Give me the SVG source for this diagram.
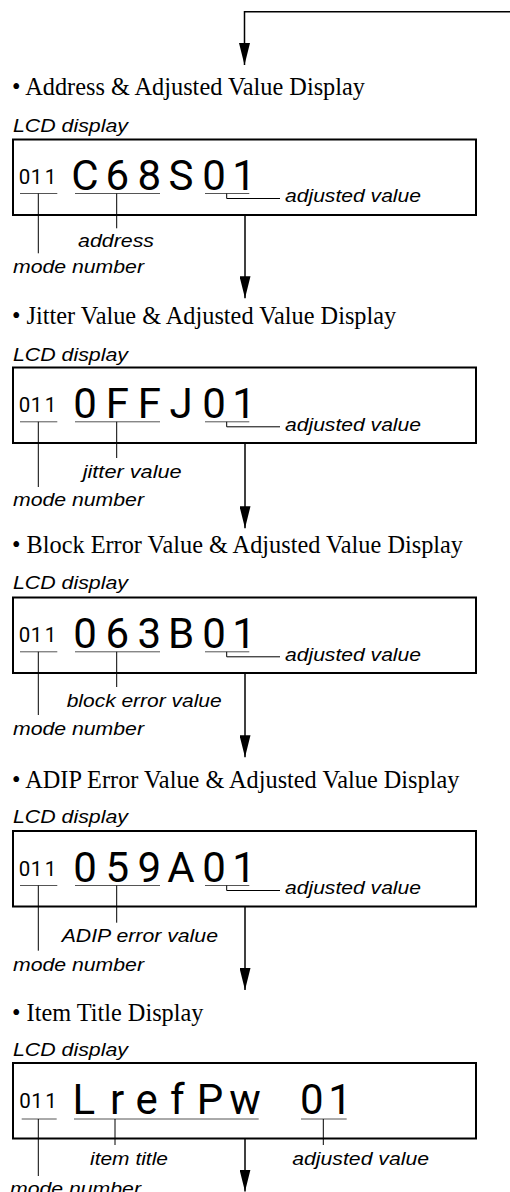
<svg xmlns="http://www.w3.org/2000/svg" width="510" height="1192" viewBox="0 0 510 1192">
<style>
.title{font-family:"Liberation Serif","Times New Roman",serif;font-size:24.3px;fill:#000}
.lbl{font-family:"Liberation Sans",Arial,sans-serif;font-style:italic;font-size:18.5px;fill:#000}
.box{fill:#fff;stroke:#000;stroke-width:2}
.lcd{font-family:Roboto,"DejaVu Sans",sans-serif;font-weight:400;font-size:42px;fill:#000;text-anchor:middle}
.lcds{font-family:Roboto,"DejaVu Sans",sans-serif;font-weight:400;font-size:20.5px;fill:#000;text-anchor:middle}
.ul{stroke:#555;stroke-width:1;fill:none}
.ld{stroke:#000;stroke-width:1;fill:none}
.arr{stroke:#000;stroke-width:1.5;fill:none;marker-end:url(#ah)}
</style>
<defs>
<marker id="ah" viewBox="0 0 22 11" refX="22" refY="5.5" markerWidth="22" markerHeight="11" markerUnits="userSpaceOnUse" orient="auto">
<path d="M0,0 L22,5.5 L0,11 Z" fill="#000"/>
</marker>
</defs>
<rect width="510" height="1192" fill="#fff"/>

<g id="connectors">
<polyline class="arr" points="510,11.7 244.5,11.7 244.5,65"/>
<line class="arr" x1="245" y1="215" x2="245" y2="298.3"/>
<line class="arr" x1="245" y1="443.3" x2="245" y2="528.3"/>
<line class="arr" x1="245" y1="673" x2="245" y2="757.3"/>
<line class="arr" x1="245" y1="906" x2="245" y2="990"/>
<line class="arr" x1="245" y1="1138.5" x2="245" y2="1191.5"/>
</g>

<g id="block1">
<text class="title" x="12" y="95">• Address &amp; Adjusted Value Display</text>
<text class="lbl" x="13" y="132" textLength="115" lengthAdjust="spacingAndGlyphs">LCD display</text>
<rect class="box" x="13" y="139.5" width="463" height="75.5"/>
<text class="lcds" x="24.5 36.5 50.5" y="184.2">011</text>
<text class="lcd" x="85 117.3 149.3 181 214 244" y="190.2">C68S01</text>
<path class="ul" d="M20,193.5 H57.3 M75,193.5 H160 M205,193.5 H249.3"/>
<path class="ld" d="M226.7,193.5 V198.5 H280 M38.3,193.5 V253.3 M116.7,193.5 V228.3"/>
<text class="lbl" x="285" y="202" textLength="136" lengthAdjust="spacingAndGlyphs">adjusted value</text>
<text class="lbl" x="78" y="247.3" textLength="76" lengthAdjust="spacingAndGlyphs">address</text>
<text class="lbl" x="13" y="273.3" textLength="131" lengthAdjust="spacingAndGlyphs">mode number</text>
</g>

<g id="block2">
<text class="title" x="12" y="324">• Jitter Value &amp; Adjusted Value Display</text>
<text class="lbl" x="13" y="360.5" textLength="115" lengthAdjust="spacingAndGlyphs">LCD display</text>
<rect class="box" x="13" y="367.5" width="463" height="75.5"/>
<text class="lcds" x="24.5 36.5 50.5" y="412.2">011</text>
<text class="lcd" x="85 117.3 149.3 181 214 244" y="418.2">0FFJ01</text>
<path class="ul" d="M20,421.8 H57.3 M75,421.8 H160 M205,421.8 H249.3"/>
<path class="ld" d="M226.7,421.8 V426.8 H280 M38.3,421.8 V487 M116.7,421.8 V458"/>
<text class="lbl" x="285" y="430.5" textLength="136" lengthAdjust="spacingAndGlyphs">adjusted value</text>
<text class="lbl" x="82.7" y="478.3" textLength="99" lengthAdjust="spacingAndGlyphs">jitter value</text>
<text class="lbl" x="13" y="506" textLength="131" lengthAdjust="spacingAndGlyphs">mode number</text>
</g>

<g id="block3">
<text class="title" x="12" y="553">• Block Error Value &amp; Adjusted Value Display</text>
<text class="lbl" x="13" y="589" textLength="115" lengthAdjust="spacingAndGlyphs">LCD display</text>
<rect class="box" x="13" y="597.5" width="463" height="75.5"/>
<text class="lcds" x="24.5 36.5 50.5" y="642.2">011</text>
<text class="lcd" x="85 117.3 149.3 181 214 244" y="648.2">063B01</text>
<path class="ul" d="M20,651.8 H57.3 M75,651.8 H160 M205,651.8 H249.3"/>
<path class="ld" d="M226.7,651.8 V656.8 H280 M38.3,651.8 V715 M116.7,651.8 V687"/>
<text class="lbl" x="285" y="660.5" textLength="136" lengthAdjust="spacingAndGlyphs">adjusted value</text>
<text class="lbl" x="66.7" y="706.7" textLength="155" lengthAdjust="spacingAndGlyphs">block error value</text>
<text class="lbl" x="13" y="735" textLength="131" lengthAdjust="spacingAndGlyphs">mode number</text>
</g>

<g id="block4">
<text class="title" x="12" y="788">• ADIP Error Value &amp; Adjusted Value Display</text>
<text class="lbl" x="13" y="823" textLength="115" lengthAdjust="spacingAndGlyphs">LCD display</text>
<rect class="box" x="13" y="831" width="463" height="75.5"/>
<text class="lcds" x="24.5 36.5 50.5" y="875.7">011</text>
<text class="lcd" x="85 117.3 149.3 181 214 244" y="881.7">059A01</text>
<path class="ul" d="M20,885.5 H57.3 M75,885.5 H160 M205,885.5 H249.3"/>
<path class="ld" d="M226.7,885.5 V890.5 H280 M38.3,885.5 V950.7 M116.7,885.5 V922.7"/>
<text class="lbl" x="285" y="894" textLength="136" lengthAdjust="spacingAndGlyphs">adjusted value</text>
<text class="lbl" x="61.7" y="941.7" textLength="156.3" lengthAdjust="spacingAndGlyphs">ADIP error value</text>
<text class="lbl" x="13" y="970.7" textLength="131" lengthAdjust="spacingAndGlyphs">mode number</text>
</g>

<g id="block5">
<text class="title" x="12" y="1021">• Item Title Display</text>
<text class="lbl" x="13" y="1056" textLength="115" lengthAdjust="spacingAndGlyphs">LCD display</text>
<rect class="box" x="13" y="1063" width="463" height="75.5"/>
<text class="lcds" x="25 37 51" y="1107.7">011</text>
<text class="lcd" x="83.7 117 146.7 177.3 210 245 311.7 340" y="1114">LrefPw01</text>
<path class="ul" d="M21.7,1119 H56.7 M74,1119 H258.7 M301,1119 H346.7"/>
<path class="ld" d="M38.3,1119 V1176 M115,1119 V1145 M323.3,1119 V1145"/>
<text class="lbl" x="90" y="1165" textLength="78" lengthAdjust="spacingAndGlyphs">item title</text>
<text class="lbl" x="292.3" y="1165" textLength="136.7" lengthAdjust="spacingAndGlyphs">adjusted value</text>
<text class="lbl" x="10" y="1195" textLength="131" lengthAdjust="spacingAndGlyphs">mode number</text>
</g>
</svg>
